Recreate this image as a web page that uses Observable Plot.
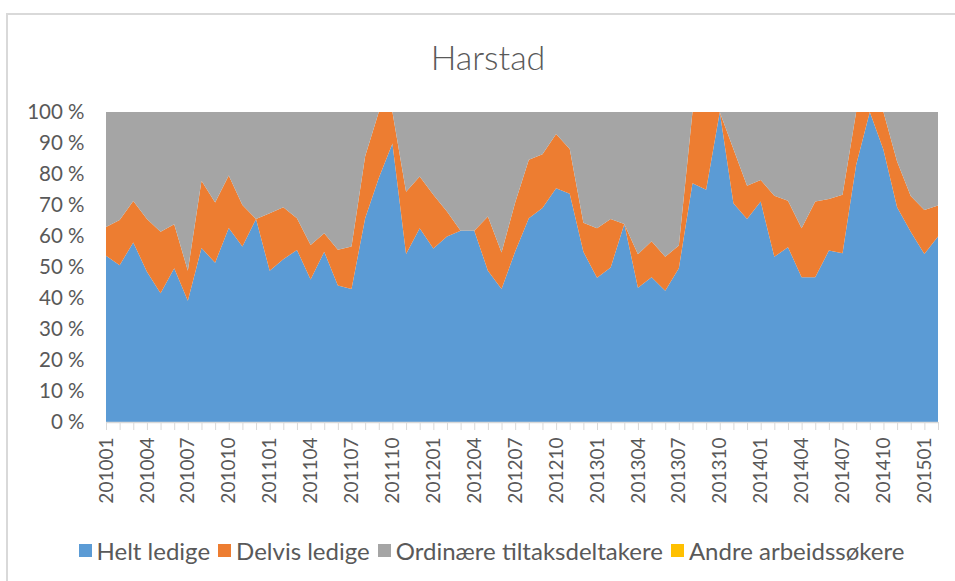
<!DOCTYPE html>
<html>
<head>
<meta charset="utf-8">
<script src="https://cdn.jsdelivr.net/npm/d3@7"></script>
<script src="https://cdn.jsdelivr.net/npm/@observablehq/plot@0.6"></script>
<style>
  html, body { margin: 0; padding: 0; background: #fff; }
  #wrap { position: relative; width: 955px; height: 581px; overflow: hidden; font-family: Lato, "Open Sans", sans-serif; color: #595959; }
  #border { position: absolute; left: 6px; top: 13px; width: 960px; height: 580px; border: 2px solid #d9d9d9; box-sizing: border-box; }
  #title { position: absolute; left: 0; width: 976px; top: 36px; text-align: center; font-size: 34px; font-weight: 300; color: #595959; }
  #chart { position: absolute; left: 0; top: 0; }
  #legend { position: absolute; left: 0; width: 983px; top: 536px; display: flex; justify-content: center; gap: 8px; font-size: 24px; }
  .item { display: flex; align-items: center; }
  .sw { width: 13px; height: 13px; margin-right: 5px; }
</style>
</head>
<body>
<div id="wrap">
  <div id="border"></div>
  <div id="title">Harstad</div>
  <div id="chart"></div>
  <div id="legend"></div>
</div>
<script>
const months = ["201001","201002","201003","201004","201005","201006","201007","201008","201009","201010","201011","201012",
"201101","201102","201103","201104","201105","201106","201107","201108","201109","201110","201111","201112",
"201201","201202","201203","201204","201205","201206","201207","201208","201209","201210","201211","201212",
"201301","201302","201303","201304","201305","201306","201307","201308","201309","201310","201311","201312",
"201401","201402","201403","201404","201405","201406","201407","201408","201409","201410","201411","201412",
"201501","201502"];

const seriesNames = ["Helt ledige", "Delvis ledige", "Ordinære tiltaksdeltakere", "Andre arbeidssøkere"];
const seriesColors = ["#5B9BD5", "#ED7D31", "#A5A5A5", "#FFC000"];

// percent shares per month
const heltLedige = [53.6,50.6,57.9,48.5,41.5,49.6,39.1,56.1,51.4,62.6,56.6,65.5,
48.8,52.5,55.5,46.0,54.9,44.0,42.9,65.7,78.7,89.8,54.2,62.5,
56.0,59.8,61.7,61.7,48.8,42.9,55.0,65.7,69.0,75.4,73.6,54.9,
46.5,49.8,63.9,43.3,46.7,42.3,49.6,77.0,74.9,100.0,70.6,65.5,
71.1,53.3,56.4,46.7,46.7,55.3,54.4,83.0,100.0,87.8,69.3,61.4,
54.2,59.8];
const delvisLedige = [9.3,14.6,13.4,17.0,19.9,14.2,9.7,21.7,19.4,16.9,13.4,0.0,
18.5,16.8,10.2,11.1,6.0,11.6,13.7,20.0,21.3,10.2,20.1,16.7,
17.3,8.1,0.0,0.0,17.5,11.8,15.8,18.9,17.4,17.5,14.5,9.4,
16.0,15.7,0.0,10.8,11.6,11.0,7.3,23.0,25.1,0.0,17.5,10.7,
7.0,19.7,15.0,15.8,24.4,16.6,18.9,17.0,0.0,12.2,14.7,11.5,
14.2,10.0];
const ordinaere = [37.1,34.8,28.7,34.5,38.6,36.2,51.2,22.2,29.2,20.5,30.0,34.5,
32.7,30.7,34.3,42.9,39.1,44.4,43.4,14.3,0.0,0.0,25.7,20.8,
26.7,32.1,38.3,38.3,33.7,45.3,29.2,15.4,13.6,7.1,11.9,35.7,
37.5,34.5,36.1,45.9,41.7,46.7,43.1,0.0,0.0,0.0,11.9,23.8,
21.9,27.0,28.6,37.5,28.9,28.1,26.7,0.0,0.0,0.0,16.0,27.1,
31.6,30.2];
const andre = months.map(() => 0);

const columns = [heltLedige, delvisLedige, ordinaere, andre];
const data = [];
seriesNames.forEach((s, k) => months.forEach((m, i) => data.push({month: m, series: s, value: columns[k][i]})));

const yTicks = [0,10,20,30,40,50,60,70,80,90,100];

const chart = Plot.plot({
  width: 955,
  height: 525,
  marginLeft: 106,
  marginRight: 17,
  marginTop: 112,
  marginBottom: 103,
  style: {fontFamily: "Lato, 'Open Sans', sans-serif", color: "#595959", background: "transparent"},
  x: {type: "point", domain: months, padding: 0, label: null},
  y: {domain: [0, 100], label: null},
  color: {domain: seriesNames, range: seriesColors},
  marks: [
    Plot.areaY(data, {x: "month", y: "value", fill: "series", order: seriesNames, curve: "linear"}),
    Plot.ruleY([0], {stroke: "#d9d9d9", strokeWidth: 1.5}),
    Plot.axisY({ticks: yTicks, tickFormat: d => d + " %", tickSize: 0, tickPadding: 22, fontSize: 20.5, label: null}),
    Plot.axisX({ticks: months, tickFormat: (d, i) => (months.indexOf(d) % 3 === 0 ? d : ""), tickRotate: -90,
      tickSize: 8, tickPadding: 7, fontSize: 19, stroke: "#d9d9d9", label: null})
  ]
});
document.getElementById("chart").appendChild(chart);

const legend = document.getElementById("legend");
seriesNames.forEach((s, k) => {
  const it = document.createElement("div");
  it.className = "item";
  const sw = document.createElement("span");
  sw.className = "sw";
  sw.style.background = seriesColors[k];
  const t = document.createElement("span");
  t.textContent = s;
  it.appendChild(sw); it.appendChild(t);
  legend.appendChild(it);
});
</script>
</body>
</html>
